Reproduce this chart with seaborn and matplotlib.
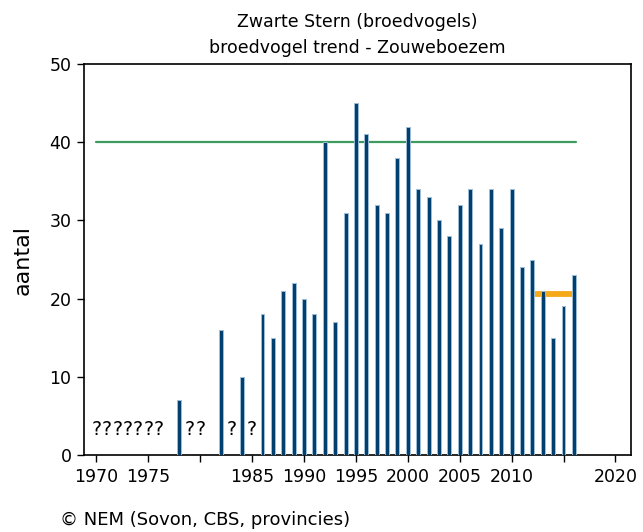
import pandas as pd
import matplotlib.pyplot as plt
import seaborn as sns

# broedparen per jaar
jaren = [1978, 1982, 1984, 1986, 1987, 1988, 1989, 1990, 1991, 1992, 1993,
         1994, 1995, 1996, 1997, 1998, 1999, 2000, 2001, 2002, 2003, 2004,
         2005, 2006, 2007, 2008, 2009, 2010, 2011, 2012, 2013, 2014, 2015, 2016]
aantal = [7, 16, 10, 18, 15, 21, 22, 20, 18, 40, 17,
          31, 45, 41, 32, 31, 38, 42, 34, 33, 30, 28,
          32, 34, 27, 34, 29, 34, 24, 25, 21, 15, 19, 23]

# jaren zonder telling
onbekend = [1970, 1971, 1972, 1973, 1974, 1975, 1976, 1979, 1980, 1983, 1985]

# referentieniveau (groen) en gemiddelde laatste jaren (oranje)
doel_x = [1970, 2016.2]
doel_y = [40, 40]
gem_x = [2012.3, 2016.0]
gem_y = [20.6, 20.6]

xticks = [1970, 1975, 1980, 1985, 1990, 1995, 2000, 2005, 2010, 2015, 2020]
xlabels = ["1970", "1975", "", "1985", "1990", "1995", "2000", "2005", "2010", "", "2020"]

data = pd.DataFrame({"jaar": jaren, "aantal": aantal})

sns.set_style("ticks")
plt.rcParams['font.family'] = ['DejaVu Sans']
plt.rcParams['text.color'] = 'black'
plt.rcParams['xtick.color'] = 'black'
plt.rcParams['ytick.color'] = 'black'
plt.rcParams['axes.labelcolor'] = 'black'

fig = plt.figure(figsize=(6.43, 5.32), dpi=100)
ax = fig.add_axes([0.1306, 0.1447, 0.8507, 0.735])

sns.barplot(x="jaar", y="aantal", data=data, native_scale=True, width=0.38,
            color="#003f6e", saturation=1, edgecolor="#9dbcd6", linewidth=0.7,
            zorder=3, ax=ax)

ax.plot(doel_x, doel_y, color="#3d9b5f", lw=1.6, zorder=2)
ax.plot(gem_x, gem_y, color="#f5a000", lw=4.2, solid_capstyle="butt", alpha=0.9, zorder=2)

for j in onbekend:
    ax.text(j, 3.2, "?", ha="center", va="center", fontsize=13.5)

ax.set_xlim(1968.8, 2021.5)
ax.set_ylim(0, 50)
ax.set_xticks(xticks)
ax.set_xticklabels(xlabels)
ax.set_yticks([0, 10, 20, 30, 40, 50])
ax.tick_params(axis="both", direction="out", length=5, width=1, labelsize=12.5, pad=4)
for s in ax.spines.values():
    s.set_visible(True)
    s.set_linewidth(1.2)
    s.set_color("black")

ax.set_xlabel("")
ax.set_ylabel("aantal", fontsize=16, labelpad=12)

fig.text(0.555, 0.958, "Zwarte Stern (broedvogels)", ha="center", va="center", fontsize=12.5)
fig.text(0.555, 0.91, "broedvogel trend - Zouweboezem", ha="center", va="center", fontsize=12.5)
fig.text(0.093, 0.022, "© NEM (Sovon, CBS, provincies)", ha="left", va="center", fontsize=13)

fig.savefig("out.png", dpi=100)
